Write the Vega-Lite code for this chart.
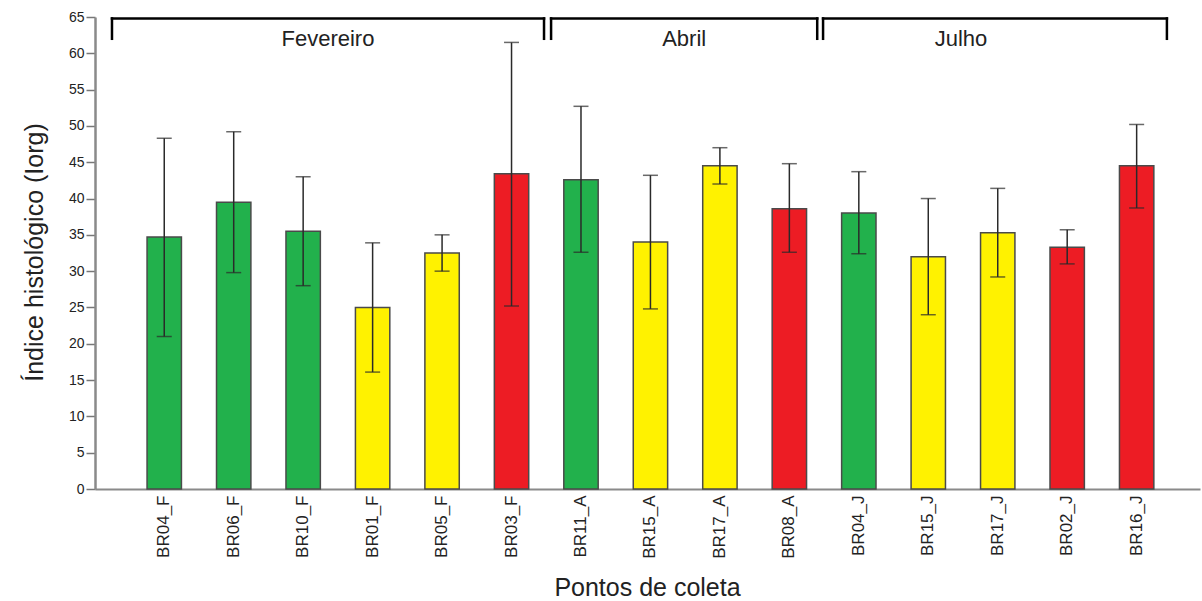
{
  "$schema": "https://vega.github.io/schema/vega-lite/v6.json",
  "width": 1105,
  "height": 472,
  "autosize": {"type": "none"},
  "padding": {"left": 95, "top": 17, "right": 2, "bottom": 112},
  "background": "white",
  "config": {
    "view": {"stroke": null},
    "font": "Liberation Sans",
    "axisY": {
      "titleFont": "Liberation Sans",
      "titleFontSize": 25,
      "titleFontWeight": "normal",
      "titleColor": "#222222",
      "titleAngle": -90,
      "titleX": -53,
      "titleY": 235,
      "titleAlign": "center",
      "titleBaseline": "alphabetic",
      "labelFont": "Liberation Sans",
      "labelFontSize": 14,
      "labelColor": "#222222",
      "labelPadding": 2,
      "labelOverlap": false,
      "tickSize": 9,
      "tickColor": "#777777",
      "tickWidth": 1.5,
      "domainColor": "#8a8a8a",
      "domainWidth": 2.5,
      "grid": false
    },
    "axisX": {
      "titleFont": "Liberation Sans",
      "titleFontSize": 25,
      "titleFontWeight": "normal",
      "titleColor": "#222222",
      "titleX": 552,
      "titleY": 106,
      "titleAlign": "center",
      "titleBaseline": "alphabetic",
      "labelAngle": -90,
      "labelAlign": "right",
      "labelBaseline": "middle",
      "labelFont": "Liberation Sans",
      "labelFontSize": 17,
      "labelColor": "#222222",
      "labelPadding": 6,
      "ticks": false,
      "tickSize": 0,
      "domainColor": "#8a8a8a",
      "domainWidth": 2,
      "grid": false
    }
  },
  "datasets": {
    "pontos": [
      {"ponto": "BR04_F", "classe": "verde", "media": 34.7, "inferior": 21.0, "superior": 48.3},
      {"ponto": "BR06_F", "classe": "verde", "media": 39.5, "inferior": 29.8, "superior": 49.2},
      {"ponto": "BR10_F", "classe": "verde", "media": 35.5, "inferior": 28.0, "superior": 43.0},
      {"ponto": "BR01_F", "classe": "amarelo", "media": 25.0, "inferior": 16.1, "superior": 33.9},
      {"ponto": "BR05_F", "classe": "amarelo", "media": 32.5, "inferior": 30.0, "superior": 35.0},
      {"ponto": "BR03_F", "classe": "vermelho", "media": 43.4, "inferior": 25.2, "superior": 61.5},
      {"ponto": "BR11_A", "classe": "verde", "media": 42.6, "inferior": 32.6, "superior": 52.7},
      {"ponto": "BR15_A", "classe": "amarelo", "media": 34.0, "inferior": 24.8, "superior": 43.2},
      {"ponto": "BR17_A", "classe": "amarelo", "media": 44.5, "inferior": 42.0, "superior": 47.0},
      {"ponto": "BR08_A", "classe": "vermelho", "media": 38.6, "inferior": 32.6, "superior": 44.8},
      {"ponto": "BR04_J", "classe": "verde", "media": 38.0, "inferior": 32.4, "superior": 43.7},
      {"ponto": "BR15_J", "classe": "amarelo", "media": 32.0, "inferior": 24.0, "superior": 40.0},
      {"ponto": "BR17_J", "classe": "amarelo", "media": 35.3, "inferior": 29.2, "superior": 41.4},
      {"ponto": "BR02_J", "classe": "vermelho", "media": 33.3, "inferior": 31.0, "superior": 35.7},
      {"ponto": "BR16_J", "classe": "vermelho", "media": 44.5, "inferior": 38.7, "superior": 50.2}
    ],
    "meses": [
      {"mes": "Fevereiro", "primeiro": "BR04_F", "ultimo": "BR03_F", "rotulo": "BR01_F"},
      {"mes": "Abril", "primeiro": "BR11_A", "ultimo": "BR08_A", "rotulo": "BR17_A"},
      {"mes": "Julho", "primeiro": "BR04_J", "ultimo": "BR16_J", "rotulo": "BR17_J"}
    ]
  },
  "layer": [
    {
      "data": {"name": "pontos"},
      "encoding": {
        "x": {
          "field": "ponto",
          "type": "nominal",
          "sort": null,
          "scale": {
            "domain": ["BR04_F", "BR06_F", "BR10_F", "BR01_F", "BR05_F", "BR03_F", "BR11_A", "BR15_A", "BR17_A", "BR08_A", "BR04_J", "BR15_J", "BR17_J", "BR02_J", "BR16_J"],
            "paddingInner": 0.505,
            "paddingOuter": 0.707,
            "align": 0.53
          },
          "axis": {"title": "Pontos de coleta"}
        }
      },
      "layer": [
        {
          "mark": {"type": "bar", "stroke": "#4a4a4a", "strokeWidth": 1.5},
          "encoding": {
            "y": {
              "field": "media",
              "type": "quantitative",
              "scale": {"domain": [0, 65], "nice": false, "zero": true},
              "axis": {"title": "Índice histológico (Iorg)", "values": [0, 5, 10, 15, 20, 25, 30, 35, 40, 45, 50, 55, 60, 65]}
            },
            "fill": {
              "field": "classe",
              "type": "nominal",
              "scale": {"domain": ["verde", "amarelo", "vermelho"], "range": ["#22B14C", "#FFF200", "#ED1C24"]},
              "legend": null
            }
          }
        },
        {
          "mark": {"type": "rule", "color": "#2a2a2a", "strokeWidth": 1.5},
          "encoding": {
            "y": {"field": "inferior", "type": "quantitative", "axis": {"title": "Índice histológico (Iorg)", "values": [0, 5, 10, 15, 20, 25, 30, 35, 40, 45, 50, 55, 60, 65]}},
            "y2": {"field": "superior"}
          }
        },
        {
          "mark": {"type": "tick", "color": "#2a2a2a", "thickness": 1.5, "size": 15},
          "encoding": {"y": {"field": "superior", "type": "quantitative", "axis": {"title": "Índice histológico (Iorg)", "values": [0, 5, 10, 15, 20, 25, 30, 35, 40, 45, 50, 55, 60, 65]}}}
        },
        {
          "mark": {"type": "tick", "color": "#2a2a2a", "thickness": 1.5, "size": 15},
          "encoding": {"y": {"field": "inferior", "type": "quantitative", "axis": {"title": "Índice histológico (Iorg)", "values": [0, 5, 10, 15, 20, 25, 30, 35, 40, 45, 50, 55, 60, 65]}}}
        }
      ]
    },
    {
      "data": {"name": "meses"},
      "transform": [{"filter": "datum.mes === 'Fevereiro'"}],
      "encoding": {
        "y": {"datum": 64.8, "type": "quantitative", "axis": {"title": "Índice histológico (Iorg)", "values": [0, 5, 10, 15, 20, 25, 30, 35, 40, 45, 50, 55, 60, 65]}}
      },
      "layer": [
        {
          "mark": {"type": "rule", "color": "#000000", "strokeWidth": 2.5, "strokeCap": "square"},
          "encoding": {
            "x": {"field": "primeiro", "type": "nominal", "bandPosition": -1.02, "title": "Pontos de coleta"},
            "x2": {"field": "ultimo", "bandPosition": 1.445}
          }
        },
        {
          "mark": {"type": "rule", "color": "#000000", "strokeWidth": 2.5, "strokeCap": "square"},
          "encoding": {
            "x": {"field": "primeiro", "type": "nominal", "bandPosition": -1.02, "title": "Pontos de coleta"},
            "y2": {"datum": 62.0}
          }
        },
        {
          "mark": {"type": "rule", "color": "#000000", "strokeWidth": 2.5, "strokeCap": "square"},
          "encoding": {
            "x": {"field": "ultimo", "type": "nominal", "bandPosition": 1.445, "title": "Pontos de coleta"},
            "y2": {"datum": 62.0}
          }
        },
        {
          "mark": {"type": "text", "font": "Liberation Sans", "fontSize": 22, "align": "center", "baseline": "alphabetic", "color": "#222222"},
          "encoding": {
            "x": {"field": "rotulo", "type": "nominal", "bandPosition": -0.8, "title": "Pontos de coleta"},
            "y": {"datum": 61.0, "type": "quantitative", "axis": {"title": "Índice histológico (Iorg)", "values": [0, 5, 10, 15, 20, 25, 30, 35, 40, 45, 50, 55, 60, 65]}},
            "text": {"field": "mes"}
          }
        }
      ]
    },
    {
      "data": {"name": "meses"},
      "transform": [{"filter": "datum.mes === 'Abril'"}],
      "encoding": {
        "y": {"datum": 64.8, "type": "quantitative", "axis": {"title": "Índice histológico (Iorg)", "values": [0, 5, 10, 15, 20, 25, 30, 35, 40, 45, 50, 55, 60, 65]}}
      },
      "layer": [
        {
          "mark": {"type": "rule", "color": "#000000", "strokeWidth": 2.5, "strokeCap": "square"},
          "encoding": {
            "x": {"field": "primeiro", "type": "nominal", "bandPosition": -0.37, "title": "Pontos de coleta"},
            "x2": {"field": "ultimo", "bandPosition": 1.31}
          }
        },
        {
          "mark": {"type": "rule", "color": "#000000", "strokeWidth": 2.5, "strokeCap": "square"},
          "encoding": {
            "x": {"field": "primeiro", "type": "nominal", "bandPosition": -0.37, "title": "Pontos de coleta"},
            "y2": {"datum": 62.0}
          }
        },
        {
          "mark": {"type": "rule", "color": "#000000", "strokeWidth": 2.5, "strokeCap": "square"},
          "encoding": {
            "x": {"field": "ultimo", "type": "nominal", "bandPosition": 1.31, "title": "Pontos de coleta"},
            "y2": {"datum": 62.0}
          }
        },
        {
          "mark": {"type": "text", "font": "Liberation Sans", "fontSize": 22, "align": "center", "baseline": "alphabetic", "color": "#222222"},
          "encoding": {
            "x": {"field": "rotulo", "type": "nominal", "bandPosition": -0.54, "title": "Pontos de coleta"},
            "y": {"datum": 61.0, "type": "quantitative", "axis": {"title": "Índice histológico (Iorg)", "values": [0, 5, 10, 15, 20, 25, 30, 35, 40, 45, 50, 55, 60, 65]}},
            "text": {"field": "mes"}
          }
        }
      ]
    },
    {
      "data": {"name": "meses"},
      "transform": [{"filter": "datum.mes === 'Julho'"}],
      "encoding": {
        "y": {"datum": 64.8, "type": "quantitative", "axis": {"title": "Índice histológico (Iorg)", "values": [0, 5, 10, 15, 20, 25, 30, 35, 40, 45, 50, 55, 60, 65]}}
      },
      "layer": [
        {
          "mark": {"type": "rule", "color": "#000000", "strokeWidth": 2.5, "strokeCap": "square"},
          "encoding": {
            "x": {"field": "primeiro", "type": "nominal", "bandPosition": -0.54, "title": "Pontos de coleta"},
            "x2": {"field": "ultimo", "bandPosition": 1.38}
          }
        },
        {
          "mark": {"type": "rule", "color": "#000000", "strokeWidth": 2.5, "strokeCap": "square"},
          "encoding": {
            "x": {"field": "primeiro", "type": "nominal", "bandPosition": -0.54, "title": "Pontos de coleta"},
            "y2": {"datum": 62.0}
          }
        },
        {
          "mark": {"type": "rule", "color": "#000000", "strokeWidth": 2.5, "strokeCap": "square"},
          "encoding": {
            "x": {"field": "ultimo", "type": "nominal", "bandPosition": 1.38, "title": "Pontos de coleta"},
            "y2": {"datum": 62.0}
          }
        },
        {
          "mark": {"type": "text", "font": "Liberation Sans", "fontSize": 22, "align": "center", "baseline": "alphabetic", "color": "#222222"},
          "encoding": {
            "x": {"field": "rotulo", "type": "nominal", "bandPosition": -0.57, "title": "Pontos de coleta"},
            "y": {"datum": 61.0, "type": "quantitative", "axis": {"title": "Índice histológico (Iorg)", "values": [0, 5, 10, 15, 20, 25, 30, 35, 40, 45, 50, 55, 60, 65]}},
            "text": {"field": "mes"}
          }
        }
      ]
    }
  ]
}
